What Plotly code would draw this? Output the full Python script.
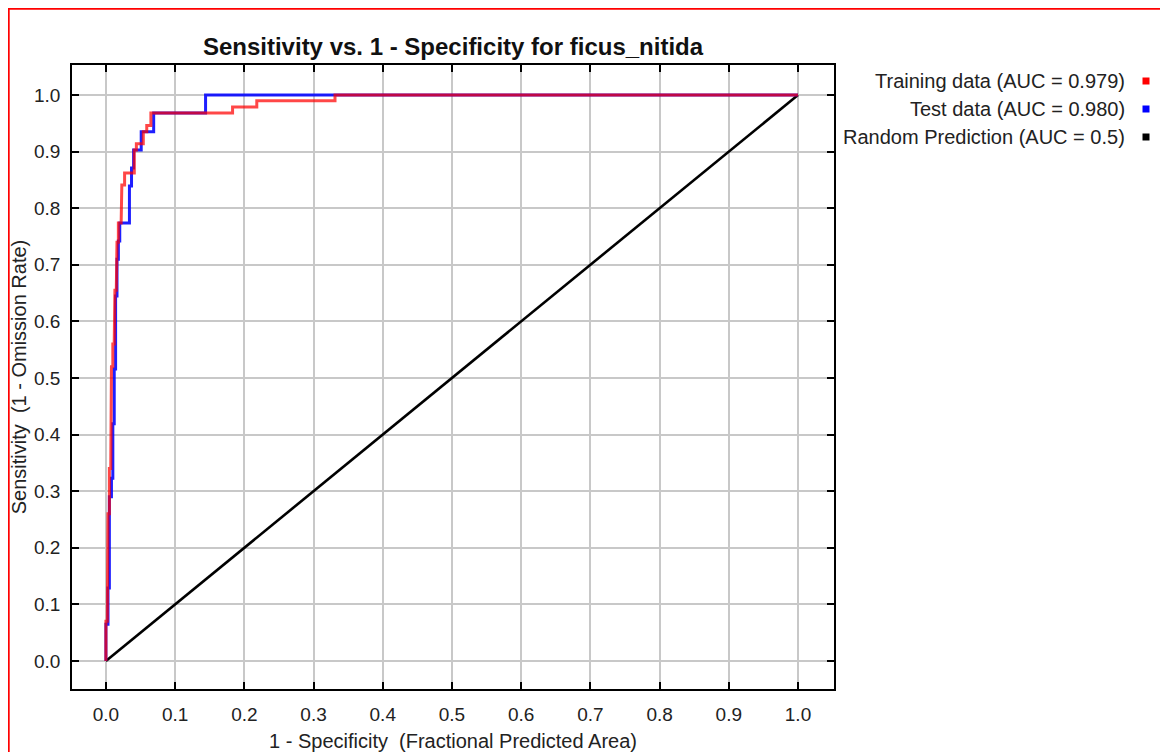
import plotly.graph_objects as go

# ---- data ----
train_fpr = [0.0, 0.0, 0.002, 0.002, 0.003, 0.003, 0.005, 0.005, 0.007, 0.007, 0.008, 0.008,
             0.010, 0.010, 0.012, 0.012, 0.013, 0.013, 0.015, 0.015, 0.016, 0.016, 0.018, 0.018,
             0.022, 0.022, 0.023, 0.023, 0.027, 0.027, 0.041, 0.041, 0.044, 0.044, 0.054, 0.054,
             0.059, 0.059, 0.065, 0.065, 0.183, 0.183, 0.218, 0.218, 0.331, 0.331, 1.0]
train_tpr = [0.0, 0.07, 0.07, 0.16, 0.16, 0.26, 0.26, 0.34, 0.34, 0.45, 0.45, 0.52,
             0.52, 0.56, 0.56, 0.60, 0.60, 0.655, 0.655, 0.70, 0.70, 0.74, 0.74, 0.774,
             0.774, 0.805, 0.805, 0.841, 0.841, 0.862, 0.862, 0.903, 0.903, 0.914, 0.914, 0.935,
             0.935, 0.946, 0.946, 0.968, 0.968, 0.979, 0.979, 0.990, 0.990, 1.0, 1.0]

test_fpr = [0.0, 0.0, 0.003, 0.003, 0.005, 0.005, 0.008, 0.008, 0.010, 0.010, 0.012, 0.012,
            0.014, 0.014, 0.016, 0.016, 0.018, 0.018, 0.020, 0.020, 0.034, 0.034, 0.037, 0.037,
            0.040, 0.040, 0.051, 0.051, 0.069, 0.069, 0.144, 0.144, 1.0]
test_tpr = [0.0, 0.065, 0.065, 0.129, 0.129, 0.290, 0.290, 0.323, 0.323, 0.419, 0.419, 0.516,
            0.516, 0.645, 0.645, 0.710, 0.710, 0.742, 0.742, 0.774, 0.774, 0.839, 0.839, 0.871,
            0.871, 0.903, 0.903, 0.935, 0.935, 0.968, 0.968, 1.0, 1.0]

random_fpr = [0.0, 1.0]
random_tpr = [0.0, 1.0]

legend_labels = ["Training data (AUC = 0.979)", "Test data (AUC = 0.980)", "Random Prediction (AUC = 0.5)"]
legend_colors = ["#ff0000", "#0000ff", "#000000"]

tick_vals = [0.0, 0.1, 0.2, 0.3, 0.4, 0.5, 0.6, 0.7, 0.8, 0.9, 1.0]
tick_text = ["0.0", "0.1", "0.2", "0.3", "0.4", "0.5", "0.6", "0.7", "0.8", "0.9", "1.0"]

# page body has an 8px margin, so the figure is 8px smaller and all pixel
# positions below are measured from the figure's own top-left corner
W, H = 1160, 744
L, R, T, B = 64, 826, 57, 681  # plot area in pixels
FONT = "Liberation Sans, Arial, sans-serif"

def px(x):
    return (x - L) / (R - L)

def py(y):
    return (B - y) / (B - T)

fig = go.Figure()
fig.add_trace(go.Scatter(x=random_fpr, y=random_tpr, mode="lines",
                         line=dict(color="#000000", width=2.6), showlegend=False))
fig.add_trace(go.Scatter(x=test_fpr, y=test_tpr, mode="lines",
                         line=dict(color="rgba(0,0,255,0.88)", width=3), showlegend=False))
fig.add_trace(go.Scatter(x=train_fpr, y=train_tpr, mode="lines",
                         line=dict(color="rgba(255,0,0,0.72)", width=3), showlegend=False))

axis_common = dict(
    tickmode="array", tickvals=tick_vals, ticktext=tick_text,
    showgrid=True, gridcolor="#c8c8c8", gridwidth=1.5,
    showline=True, linecolor="#000000", linewidth=1.5, mirror="allticks",
    ticks="inside", ticklen=7, tickwidth=1.5, tickcolor="#000000",
    zeroline=False, automargin=False,
    tickfont=dict(family=FONT, size=19, color="#222222"),
)

fig.update_layout(
    width=W, height=H,
    margin=dict(l=L, r=W - R, t=T, b=H - B, pad=0),
    paper_bgcolor="#ffffff", plot_bgcolor="#ffffff",
    title=dict(text="<b>Sensitivity vs. 1 - Specificity for ficus_nitida</b>",
               x=0.5, xref="paper", xanchor="center", y=1 - 39 / H, yanchor="middle",
               font=dict(family=FONT, size=24, color="#111111")),
    xaxis=dict(range=[-0.049, 1.052],
               title=dict(text="1 - Specificity\u00a0 (Fractional Predicted Area)",
                          font=dict(family=FONT, size=20, color="#222222"), standoff=12),
               ticklabelstandoff=7, **axis_common),
    yaxis=dict(range=[-0.0495, 1.053],
               title=dict(text="Sensitivity\u00a0 (1 - Omission Rate)",
                          font=dict(family=FONT, size=20, color="#222222"), standoff=6),
               ticklabelstandoff=6, **axis_common),
    showlegend=False,
)

# legend drawn as right-aligned text with squares to the right (as in reference)
row_y = [73, 101, 129]
for lab, col, yy in zip(legend_labels, legend_colors, row_y):
    fig.add_annotation(text=lab, xref="paper", yref="paper", x=px(1119), y=py(yy),
                       xanchor="right", yanchor="middle", showarrow=False,
                       font=dict(family=FONT, size=20, color="#222222"))
    fig.add_shape(type="rect", xref="paper", yref="paper",
                  x0=px(1134.5), x1=px(1141.5), y0=py(yy - 3.5), y1=py(yy + 3.5),
                  fillcolor=col, line=dict(width=0))

# red frame around the panel (top and left edges visible)
fig.add_shape(type="rect", xref="paper", yref="paper",
              x0=px(0.8), x1=px(1300), y0=py(900), y1=py(0.8),
              line=dict(color="#ff0000", width=1.8), fillcolor="rgba(0,0,0,0)", layer="above")

fig.write_html("out.html")
